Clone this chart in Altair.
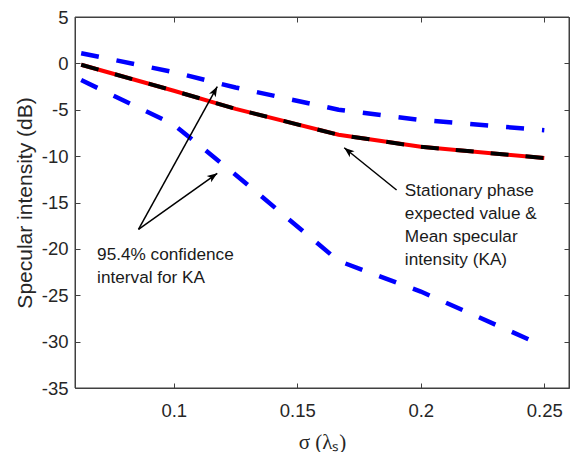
import math
import altair as alt
import pandas as pd

# ---- data ----
sigma = [0.0625, 0.1, 0.125, 0.1667, 0.2, 0.25]
mean_db = [-0.15, -2.95, -4.9, -7.7, -9.0, -10.2]
upper_db = [1.1, -0.95, -2.6, -5.0, -6.1, -7.2]
lower_db = [-1.8, -6.6, -12.0, -21.3, -24.6, -30.5]

x_ticks = [0.1, 0.15, 0.2, 0.25]
y_ticks = [-35, -30, -25, -20, -15, -10, -5, 0, 5]
x_domain = [0.06, 0.26]
y_domain = [-35, 5]

arrow_x1 = [0.0857, 0.0857, 0.1902]
arrow_y1 = [-17.9, -17.9, -13.65]
arrow_x2 = [0.1176, 0.1176, 0.1690]
arrow_y2 = [-11.85, -2.5, -9.1]

note_x = [0.06895, 0.19355]
note_y = [-21.2, -14.35]
note_text = ["95.4% confidence\ninterval for KA",
             "Stationary phase\nexpected value &\nMean specular\nintensity (KA)"]

W, H = 494, 371
INK = "#262626"
BOX = "#404040"

df_bounds = pd.DataFrame({
    "sigma": sigma * 2,
    "db": upper_db + lower_db,
    "series": ["upper"] * len(sigma) + ["lower"] * len(sigma),
})
df_mean = pd.DataFrame({"sigma": sigma, "db": mean_db})

angles = []
for x1, y1, x2, y2 in zip(arrow_x1, arrow_y1, arrow_x2, arrow_y2):
    dx = (x2 - x1) * W / (x_domain[1] - x_domain[0])
    dy = -(y2 - y1) * H / (y_domain[1] - y_domain[0])
    angles.append(math.degrees(math.atan2(dx, -dy)) % 360)
df_arrows = pd.DataFrame({"x1": arrow_x1, "y1": arrow_y1, "x2": arrow_x2,
                          "y2": arrow_y2, "angle": angles})
df_notes = pd.DataFrame({"x": note_x, "y": note_y, "text": note_text})

xs = alt.Scale(domain=x_domain, nice=False, zero=False)
ys = alt.Scale(domain=y_domain, nice=False, zero=False)

label_expr = "'' + datum.value"

x_bottom = alt.Axis(orient="bottom", values=x_ticks, labelExpr=label_expr,
                    offset=-5, tickSize=5, tickWidth=1, domain=False, grid=False,
                    tickColor=BOX, labelColor=INK, labelFont="Liberation Sans",
                    labelFontSize=18.5, labelPadding=13.5,
                    title="σ (λₛ)", titleFont="Liberation Serif",
                    titleFontSize=21, titleFontWeight="normal",
                    titleColor=INK, titlePadding=11)
y_left = alt.Axis(orient="left", values=y_ticks, labelExpr=label_expr,
                  offset=-5, tickSize=5, tickWidth=1, domain=False, grid=False,
                  tickColor=BOX, labelColor=INK, labelFont="Liberation Sans",
                  labelFontSize=18.5, labelPadding=7,
                  title="Specular intensity (dB)", titleFont="Liberation Sans",
                  titleFontSize=21, titleFontWeight="normal",
                  titleColor=INK, titlePadding=6)
x_top = alt.Axis(orient="top", values=x_ticks, offset=-5, tickSize=5, tickWidth=1,
                 domain=False, grid=False, labels=False, tickColor=BOX,
                 title=None)
y_right = alt.Axis(orient="right", values=y_ticks, offset=-5, tickSize=5, tickWidth=1,
                   domain=False, grid=False, labels=False, tickColor=BOX,
                   title=None)

frame = alt.Chart(pd.DataFrame({"k": [0]})).mark_rect(
    filled=False, fill="transparent", stroke=BOX, strokeWidth=1
).encode(
    x=alt.value(0), x2=alt.value(W), y=alt.value(0), y2=alt.value(H)
)

bounds = alt.Chart(df_bounds).mark_line(
    color="#0000FF", strokeWidth=4.5, strokeDash=[18, 18]
).encode(
    x=alt.X("sigma:Q", scale=xs, axis=x_bottom),
    y=alt.Y("db:Q", scale=ys, axis=y_left),
    detail="series:N",
)

mean_red = alt.Chart(df_mean).mark_line(color="#FF0000", strokeWidth=4).encode(
    x=alt.X("sigma:Q", scale=xs, axis=None),
    y=alt.Y("db:Q", scale=ys, axis=None),
)

mean_black = alt.Chart(df_mean).mark_line(
    color="#000000", strokeWidth=4, strokeDash=[18, 17]
).encode(
    x=alt.X("sigma:Q", scale=xs, axis=x_top),
    y=alt.Y("db:Q", scale=ys, axis=y_right),
)

rules = alt.Chart(df_arrows).mark_rule(color="#000000", strokeWidth=1.5).encode(
    x=alt.X("x1:Q", scale=xs, axis=None),
    y=alt.Y("y1:Q", scale=ys, axis=None),
    x2="x2:Q",
    y2="y2:Q",
)

heads = alt.Chart(df_arrows).mark_point(
    shape="M0,0 L0.45,1.2 L0,0.9 L-0.45,1.2 Z",
    filled=True, color="#000000", size=289, opacity=1, strokeWidth=0,
).encode(
    x=alt.X("x2:Q", scale=xs, axis=None),
    y=alt.Y("y2:Q", scale=ys, axis=None),
    angle=alt.Angle("angle:Q", scale=None),
)

notes = alt.Chart(df_notes).mark_text(
    align="left", baseline="alphabetic", font="Liberation Sans",
    fontSize=17.2, color="#1a1a1a", lineBreak="\n", lineHeight=23,
).encode(
    x=alt.X("x:Q", scale=xs, axis=None),
    y=alt.Y("y:Q", scale=ys, axis=None),
    text="text:N",
)

chart = alt.layer(frame, bounds, mean_red, mean_black, rules, heads, notes).resolve_axis(
    x="independent", y="independent"
).properties(
    width=W, height=H, background="white",
    padding={"left": 6, "top": 0, "right": 0, "bottom": 0},
).configure_view(
    stroke=BOX, strokeWidth=1
)

chart.save("out.html", embed_options={"renderer": "svg", "actions": False})
